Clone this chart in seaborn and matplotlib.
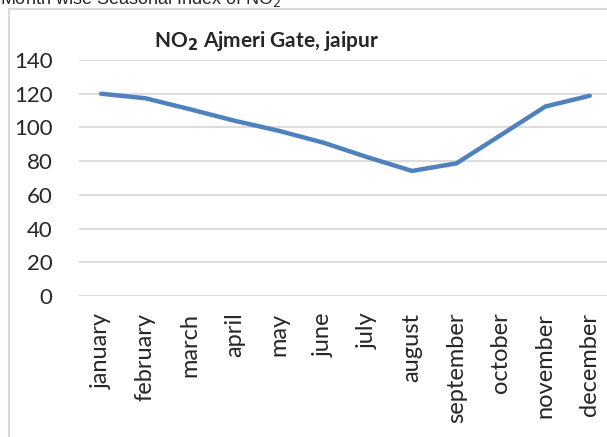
import matplotlib.pyplot as plt
import matplotlib.patches as patches
import pandas as pd
import seaborn as sns

months = ['january', 'february', 'march', 'april', 'may', 'june',
          'july', 'august', 'september', 'october', 'november', 'december']
seasonal_index = [120.0, 117.3, 110.8, 104.0, 98.0, 91.0,
                  82.3, 74.2, 78.7, 95.5, 112.4, 118.8]
y_ticks = [0, 20, 40, 60, 80, 100, 120, 140]

df = pd.DataFrame({'month': months, 'index': seasonal_index})
df['pos'] = range(len(months))

sns.set_style('white')
plt.rcParams['font.family'] = ['Lato', 'DejaVu Sans']

W, H = 607, 437
fig = plt.figure(figsize=(W / 100, H / 100), dpi=100)
ax = fig.add_axes([78.8 / W, 1 - 296 / H, (612 - 78.8) / W, (296 - 60) / H])

# chart frame (runs off the right/bottom edge like the cropped original)
fig.patches.append(patches.Rectangle((9 / W, -0.1), 1.2, 1 - 9 / H + 0.1,
                                     transform=fig.transFigure, fill=False,
                                     edgecolor='#d9d9d9', linewidth=1.5))

for y in y_ticks:
    ax.axhline(y, color='#d9d9d9', linewidth=1.3, zorder=0)

sns.lineplot(data=df, x='pos', y='index', ax=ax, color='#4f81bd',
             linewidth=3.2, solid_capstyle='round')

ax.set_xlim(-0.5, 11.5)
ax.set_ylim(0, 140)
ax.set_xticks(range(len(months)))
ax.set_xticklabels(months, rotation=90, fontsize=17)
ax.set_yticks(y_ticks)
ax.set_yticklabels([str(v) for v in y_ticks], fontsize=16)
ax.tick_params(axis='y', length=0, pad=19)
ax.tick_params(axis='x', length=0, pad=12)
ax.set_xlabel('')
ax.set_ylabel('')
for s in ax.spines.values():
    s.set_visible(False)
ax.patch.set_alpha(0)

fig.text(266 / W, 1 - 47 / H, r'NO$_\mathbf{2}$ Ajmeri Gate, jaipur',
         ha='center', va='baseline', fontsize=15, fontweight='bold')
fig.text(0.0, 1 - 4 / H, 'Month wise Seasonal Index of NO$_2$',
         ha='left', va='baseline', fontsize=13,
         family=['Liberation Sans', 'DejaVu Sans'])

fig.savefig('out.png', dpi=100)
